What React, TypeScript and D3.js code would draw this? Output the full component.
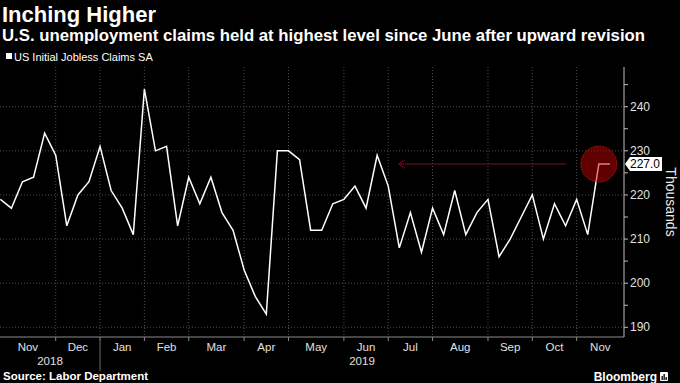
import React from "react";
import * as d3 from "d3";

const title = "Inching Higher";
const subtitle = "U.S. unemployment claims held at highest level since June after upward revision";
const seriesName = "US Initial Jobless Claims SA";
const sourceText = "Source: Labor Department";
const brand = "Bloomberg";
const unitLabel = "Thousands";

// first week (Bloomberg weekly date) and weekly initial claims, thousands
const firstWeek = "2018-10-26";
const claims = [
  219, 217, 223, 224, 234, 229, 213, 220, 223, 231, 221, 217, 211, 244,
  230, 231, 213, 224, 218, 224, 216, 212, 203, 197, 193, 230, 230, 228,
  212, 212, 218, 219, 222, 217, 229, 222, 208, 216, 207, 217, 211, 221,
  211, 216, 219, 206, 210, 215, 220, 210, 218, 213, 219, 211, 227, 227,
];
const yTicks = [190, 200, 210, 220, 230, 240];
const yMinorTicks = [195, 205, 215, 225, 235, 245];
const yDomain = [187.8, 249];
const lastValueLabel = "227.0";
const arrowFromIndex = 51;
const arrowToIndex = 36;
const arrowValue = 227;
const circleIndex = 54;

const W = 680;
const H = 383;
const plot = { left: 0, right: 624, top: 67, bottom: 337 };
const FONT = "'Liberation Sans', Arial, sans-serif";

export default function App() {
  const start = d3.timeParse("%Y-%m-%d")(firstWeek) as Date;
  const dates = claims.map((_, i) => d3.timeDay.offset(start, 7 * i));
  const x = d3
    .scaleTime()
    .domain([dates[0], dates[dates.length - 1]])
    .range([0.3, 609.9]);
  const y = d3.scaleLinear().domain(yDomain).range([plot.bottom, plot.top]);

  const line = d3
    .line<number>()
    .x((_, i) => x(dates[i]))
    .y((d) => y(d));

  // month boundaries: last week of each month
  const gridIdx: number[] = [];
  for (let i = 1; i < dates.length - 1; i++) {
    if (dates[i].getMonth() !== dates[i + 1].getMonth()) gridIdx.push(i);
  }
  const bounds = [plot.left, ...gridIdx.map((i) => x(dates[i])), plot.right];
  const monthFmt = d3.timeFormat("%b");
  const monthLabels = bounds.slice(0, -1).map((b, k) => {
    const idx = k === 0 ? 1 : gridIdx[k - 1] + 1;
    return { x: (b + bounds[k + 1]) / 2, text: monthFmt(dates[idx]), year: dates[idx].getFullYear() };
  });
  const years = Array.from(new Set(monthLabels.map((m) => m.year)));
  const yearSegs = years.map((yr) => {
    const ks = monthLabels.map((m, k) => (m.year === yr ? k : -1)).filter((k) => k >= 0);
    const x0 = bounds[ks[0]];
    const x1 = bounds[ks[ks.length - 1] + 1];
    return { yr, x0, x1 };
  });

  const ly = y(claims[claims.length - 1]);
  const ay = y(arrowValue);
  const ax0 = x(dates[arrowFromIndex]);
  const ax1 = x(dates[arrowToIndex]);
  const grid = "#4d4d4d";

  return (
    <svg
      width={W}
      height={H}
      style={{ position: "absolute", left: 0, top: 0, background: "#000" }}
      fontFamily={FONT}
    >
      <rect x={0} y={0} width={W} height={H} fill="#000" />
      <text x={2} y={22} fill="#fff" fontSize={22} fontWeight="bold">
        {title}
      </text>
      <text x={2} y={41} fill="#fff" fontSize={16} fontWeight="bold" textLength={643} lengthAdjust="spacingAndGlyphs">
        {subtitle}
      </text>
      <rect x={6} y={53} width={6} height={6} fill="#fff" />
      <text x={14} y={61} fill="#fff" fontSize={11}>
        {seriesName}
      </text>

      {/* grid */}
      {yTicks.map((t) => (
        <line key={"h" + t} x1={plot.left} x2={plot.right} y1={y(t)} y2={y(t)} stroke={grid} strokeDasharray="1 2" />
      ))}
      {gridIdx.map((i) => (
        <line key={"v" + i} x1={x(dates[i])} x2={x(dates[i])} y1={plot.top} y2={plot.bottom} stroke={grid} strokeDasharray="1 2" />
      ))}

      {/* axes */}
      <line x1={plot.left} x2={plot.right} y1={plot.bottom} y2={plot.bottom} stroke="#8a8a8a" />
      <line x1={plot.right} x2={plot.right} y1={plot.top} y2={plot.bottom} stroke="#bdbdbd" />
      {[...yTicks, ...yMinorTicks].map((t) => (
        <line key={"t" + t} x1={plot.right} x2={plot.right + 4} y1={y(t)} y2={y(t)} stroke="#bdbdbd" />
      ))}
      {yTicks.map((t) => (
        <text key={"yl" + t} x={plot.right + 6} y={y(t)} dy="0.35em" fill="#e0e0e0" fontSize={12}>
          {t}
        </text>
      ))}
      {gridIdx.map((i) => (
        <line key={"bt" + i} x1={x(dates[i])} x2={x(dates[i])} y1={plot.bottom} y2={plot.bottom + 4} stroke="#8a8a8a" />
      ))}
      {monthLabels.map((m, k) => (
        <text key={"m" + k} x={m.x} y={351} textAnchor="middle" fill="#e0e0e0" fontSize={11.5}>
          {m.text}
        </text>
      ))}
      {yearSegs.map((s) => (
        <text key={"y" + s.yr} x={(s.x0 + s.x1) / 2} y={365} textAnchor="middle" fill="#e0e0e0" fontSize={11.5}>
          {s.yr}
        </text>
      ))}
      {yearSegs.slice(1).map((s) => (
        <line key={"ys" + s.yr} x1={s.x0} x2={s.x0} y1={341} y2={371} stroke="#6a6a6a" />
      ))}

      {/* data line */}
      <path d={line(claims) || ""} fill="none" stroke="#fff" strokeWidth={1.5} strokeLinejoin="miter" />

      {/* annotation arrow */}
      <line x1={ax0} x2={ax1 + 1} y1={ay} y2={ay} stroke="#a0102a" strokeWidth={1.5} strokeDasharray="1 1" />
      <path
        d={`M${ax1 + 5},${ay - 4} L${ax1},${ay} L${ax1 + 5},${ay + 4}`}
        fill="none"
        stroke="#a0102a"
        strokeWidth={1.5}
        strokeDasharray="1 1"
      />
      <circle
        cx={x(dates[circleIndex])}
        cy={y(claims[circleIndex])}
        r={18}
        fill="#c00000"
        fillOpacity={0.5}
        stroke="#d02020"
        strokeDasharray="1 1"
      />

      {/* last value label */}
      <path
        d={`M${plot.right + 1},${ly} L${plot.right + 6},${ly - 7} L${plot.right + 38},${ly - 7} L${plot.right + 38},${ly + 7} L${plot.right + 6},${ly + 7} Z`}
        fill="#fff"
      />
      <text x={plot.right + 6} y={ly} dy="0.36em" fill="#000" fontSize={12}>
        {lastValueLabel}
      </text>
      <text transform={`translate(666, ${(plot.top + plot.bottom) / 2}) rotate(90)`} textAnchor="middle" fill="#e8e8e8" fontSize={14}>
        {unitLabel}
      </text>

      {/* footer */}
      <text x={3} y={380} fill="#fff" fontSize={11.5} fontWeight="bold">
        {sourceText}
      </text>
      <text x={657} y={381} textAnchor="end" fill="#fff" fontSize={12} fontWeight="bold">
        {brand}
      </text>
      <rect x={660} y={372} width={8} height={9} rx={1} fill="#fff" />
      <rect x={661.5} y={376} width={1.3} height={4} fill="#000" />
      <rect x={663.5} y={374} width={1.3} height={6} fill="#000" />
      <rect x={665.5} y={377} width={1.3} height={3} fill="#000" />
    </svg>
  );
}
